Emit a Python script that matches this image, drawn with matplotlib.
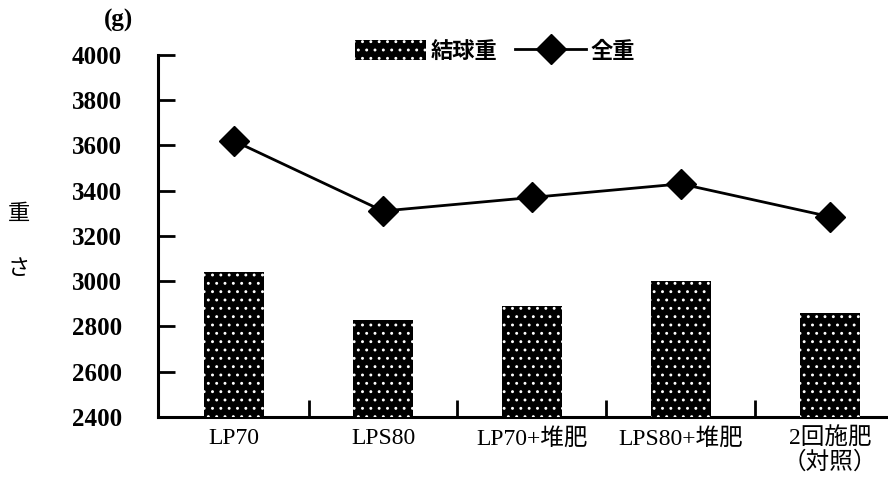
import numpy as np
import matplotlib
matplotlib.use("Agg")
import matplotlib.pyplot as plt
from matplotlib.patches import Patch
from matplotlib.lines import Line2D

plt.rcParams['font.family'] = ['Liberation Serif', 'Noto Sans CJK JP', 'DejaVu Sans']
plt.rcParams['hatch.linewidth'] = 0.9

# データ
categories = ['LP70', 'LPS80', 'LP70+堆肥', 'LPS80+堆肥', '2回施肥\n（対照）']
head_weight = [3040, 2830, 2890, 3000, 2860]     # 結球重
total_weight = [3620, 3310, 3370, 3430, 3285]    # 全重
yticks = [2400, 2600, 2800, 3000, 3200, 3400, 3600, 3800, 4000]

fig = plt.figure(figsize=(8.88, 4.78), dpi=100)
ax = fig.add_axes([0.178, 0.128, 0.822, 0.757])

x = np.arange(len(categories))
ax.bar(x, [h - 2400 for h in head_weight], bottom=2400, width=0.4,
       color='black', linewidth=0, zorder=2)
ax.bar(x, [h - 2400 for h in head_weight], bottom=2400, width=0.4,
       fill=False, hatch='..', edgecolor='white', linewidth=0, zorder=3)
ax.plot(x, total_weight, color='black', lw=2, marker='D', markersize=15,
        zorder=4, clip_on=False)

ax.set_ylim(2400, 4000)
ax.set_xlim(-0.51, 4.39)
ax.set_yticks(yticks)
ax.set_yticklabels([str(v) for v in yticks], fontsize=18, fontweight='bold')
ax.set_xticks(x)
ax.set_xticklabels(categories, fontsize=17, linespacing=1.05)
ax.set_xticks(x[:-1] + 0.5, minor=True)
ax.tick_params(axis='x', which='major', length=0, pad=8)
ax.tick_params(axis='x', which='minor', direction='in', length=12, width=2)
ax.tick_params(axis='y', direction='in', length=12, width=2, pad=26)

for s in ['top', 'right']:
    ax.spines[s].set_visible(False)
for s in ['left', 'bottom']:
    ax.spines[s].set_linewidth(2.2)

fig.text(0.133, 0.958, '(g)', fontsize=18, fontweight='bold', ha='center', va='center')
fig.text(0.021, 0.553, '重', fontsize=16, ha='center', va='center',
         family=['Noto Sans CJK JP'])
fig.text(0.021, 0.438, 'さ', fontsize=16, ha='center', va='center',
         family=['Noto Sans CJK JP'])

handles = [Patch(facecolor='black', edgecolor='white', hatch='..', linewidth=0),
           Line2D([0], [0], color='black', lw=2, marker='D', markersize=15)]
leg = ax.legend(handles, ['結球重', '全重'], loc='center', bbox_to_anchor=(0.462, 1.01),
                ncol=2, frameon=False, prop={'family': ['Noto Sans CJK JP'], 'size': 16,
                                             'weight': 'bold'},
                handlelength=3.2, handleheight=1.0, handletextpad=0.2, columnspacing=0.8)

fig.savefig('out.png', dpi=100)
